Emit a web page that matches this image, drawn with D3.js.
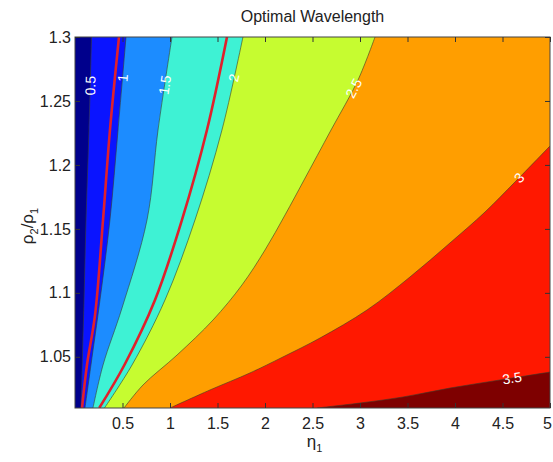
<!DOCTYPE html>
<html>
<head>
<meta charset="utf-8">
<script src="https://cdn.jsdelivr.net/npm/d3@7/dist/d3.min.js"></script>
<style>
  body { margin: 0; background: #fff; }
  text { font-family: "Liberation Sans", Arial, Helvetica, sans-serif; }
</style>
</head>
<body>
<script>
// values, [eta1, rho2/rho1]
const xTicks = [0.5, 1, 1.5, 2, 2.5, 3, 3.5, 4, 4.5, 5];
const yTicks = [1.05, 1.1, 1.15, 1.2, 1.25, 1.3];
const levels = [0.5, 1, 1.5, 2, 2.5, 3, 3.5];
const bandColors = ["#00008c", "#0a14ff", "#1c8cff", "#3ef2d4", "#c6fc30", "#ff9e00", "#ff1800", "#7e0000"];

const contour05 = [[0.174, 1.3], [0.147, 1.2273], [0.116, 1.157], [0.095, 1.0944], [0.063, 1.01]];
const contour10 = [[0.537, 1.3], [0.453, 1.2273], [0.368, 1.157], [0.263, 1.0944], [0.168, 1.0436], [0.105, 1.01]];
const contour15 = [[1.021, 1.3], [0.874, 1.2273], [0.758, 1.157], [0.495, 1.0882], [0.295, 1.0436], [0.189, 1.01]];
const contour20 = [[1.768, 1.3], [1.547, 1.2273], [1.263, 1.157], [0.947, 1.0944], [0.6, 1.0436], [0.31, 1.01]];
const contour25 = [[3.158, 1.3], [2.979, 1.2664], [2.695, 1.2273], [2.411, 1.1882], [2.211, 1.1609], [2.0, 1.1335],
                   [1.758, 1.1062], [1.453, 1.0788], [1.074, 1.0514], [0.716, 1.028], [0.516, 1.01]];
const contour30 = [[1.0, 1.01], [1.421, 1.0241], [1.842, 1.0374], [2.189, 1.0499], [2.579, 1.0647], [3.074, 1.0866],
                   [3.526, 1.1124], [3.947, 1.139], [4.316, 1.1632], [4.632, 1.1867], [5.0, 1.2148]];
const contour35 = [[2.547, 1.01], [3.0, 1.0139], [3.453, 1.0186], [3.947, 1.0256], [4.474, 1.0319], [5.0, 1.0381]];
const contours = [contour05, contour10, contour15, contour20, contour25, contour30, contour35];

// the two red curves
const redLine1 = [[0.463, 1.3], [0.368, 1.2273], [0.295, 1.157], [0.211, 1.0827], [0.126, 1.0436], [0.074, 1.01]];
const redLine2 = [[1.6, 1.3], [1.389, 1.2273], [1.126, 1.157], [0.842, 1.0944], [0.52, 1.0436], [0.255, 1.01]];

// where the level labels sit (rho for the steep ones, eta for the last)
const labelRho = [1.262, 1.268, 1.2625, 1.268, 1.26, 1.19, null];
const labelEta = [null, null, null, null, null, null, 4.6];

let SvgWidth = 553;
let SvgHeight = 462;
let Margin = { Top: 37, Right: 3, Bottom: 54, Left: 75 };
let ChartWidth = SvgWidth - Margin.Left - Margin.Right;
let ChartHeight = SvgHeight - Margin.Top - Margin.Bottom;

let Svg = d3.select("body").append("svg")
    .attr("width", SvgWidth)
    .attr("height", SvgHeight);

let ChartGroup = Svg.append("g")
    .attr("transform", `translate(${Margin.Left},${Margin.Top})`);

let x = d3.scaleLinear().domain([0, 5]).range([0, ChartWidth]);
let y = d3.scaleLinear().domain([1.01, 1.3]).range([ChartHeight, 0]);

Svg.append("defs").append("clipPath").attr("id", "plotclip")
    .append("rect").attr("width", ChartWidth).attr("height", ChartHeight);

let Plot = ChartGroup.append("g").attr("clip-path", "url(#plotclip)");

let line = d3.line().x(d => x(d[0])).y(d => y(d[1])).curve(d3.curveCatmullRom.alpha(0.5));

// lowest band as the background, each level paints everything to its right
Plot.append("rect")
    .attr("width", ChartWidth).attr("height", ChartHeight)
    .attr("fill", bandColors[0]);

contours.forEach(function (c, i) {
    let xmax = x.domain()[1], ymin = y.domain()[0];
    let d = line(c) + `L${x(xmax) + 2},${y(ymin) + 2}L${x(xmax) + 2},${y(c[0][1]) + (c[0][1] > 1.2 ? -2 : 2)}Z`;
    Plot.append("path")
        .attr("d", d)
        .attr("fill", bandColors[i + 1]);
});

contours.forEach(function (c) {
    Plot.append("path")
        .attr("d", line(c))
        .attr("fill", "none")
        .attr("stroke", "#3a3a2a")
        .attr("stroke-opacity", 0.75)
        .attr("stroke-width", 0.8);
});

[redLine1, redLine2].forEach(function (c) {
    Plot.append("path")
        .attr("d", line(c))
        .attr("fill", "none")
        .attr("stroke", "#e0202c")
        .attr("stroke-width", 2.6);
});

// contour labels, turned along the line
function labelSpot(c, rho, eta) {
    for (let i = 0; i < c.length - 1; i++) {
        let a = c[i], b = c[i + 1];
        let t = null;
        if (rho != null && (rho - a[1]) * (rho - b[1]) <= 0) t = (rho - a[1]) / (b[1] - a[1]);
        if (eta != null && (eta - a[0]) * (eta - b[0]) <= 0) t = (eta - a[0]) / (b[0] - a[0]);
        if (t != null) {
            let px = x(a[0] + t * (b[0] - a[0])), py = y(a[1] + t * (b[1] - a[1]));
            let ang = Math.atan2(y(b[1]) - y(a[1]), x(b[0]) - x(a[0])) * 180 / Math.PI;
            if (ang > 90) ang -= 180;
            if (ang < -90) ang += 180;
            return [px, py, ang];
        }
    }
    return null;
}

contours.forEach(function (c, i) {
    let s = labelSpot(c, labelRho[i], labelEta[i]);
    if (!s) return;
    Plot.append("text")
        .attr("transform", `translate(${s[0]},${s[1]}) rotate(${s[2]})`)
        .attr("text-anchor", "middle")
        .attr("dy", "0.36em")
        .attr("fill", "#fff")
        .style("font-size", "14px")
        .text(levels[i]);
});

// frame and inward ticks on all four sides
ChartGroup.append("rect")
    .attr("width", ChartWidth).attr("height", ChartHeight)
    .attr("fill", "none").attr("stroke", "#444").attr("stroke-width", 1);

let BottomAxis = d3.axisBottom(x).tickValues(xTicks).tickSizeInner(-5).tickSizeOuter(0).tickPadding(10).tickFormat(d => String(d));
let TopAxis = d3.axisTop(x).tickValues(xTicks).tickSizeInner(-5).tickSizeOuter(0).tickFormat("");
let LeftAxis = d3.axisLeft(y).tickValues(yTicks).tickSizeInner(-5).tickSizeOuter(0).tickPadding(4).tickFormat(d => String(d));
let RightAxis = d3.axisRight(y).tickValues(yTicks).tickSizeInner(-5).tickSizeOuter(0).tickFormat("");

let BottomG = ChartGroup.append("g").attr("transform", `translate(0,${ChartHeight})`).call(BottomAxis);
ChartGroup.append("g").call(TopAxis);
ChartGroup.append("g").call(LeftAxis);
ChartGroup.append("g").attr("transform", `translate(${ChartWidth},0)`).call(RightAxis);

ChartGroup.selectAll(".domain").remove();
ChartGroup.selectAll(".tick line").attr("stroke", "#333");
ChartGroup.selectAll(".tick text")
    .attr("fill", "#222")
    .style("font-size", "16px")
    .style("font-family", '"Liberation Sans", Arial, sans-serif');

// last label sits right on the window edge, nudge it in
BottomG.selectAll(".tick text").filter(d => d === 5).attr("dx", -3);

// title and axis names
Svg.append("text")
    .attr("x", Margin.Left + ChartWidth / 2)
    .attr("y", 22)
    .attr("text-anchor", "middle")
    .attr("fill", "#222")
    .style("font-size", "16px")
    .text("Optimal Wavelength");

let xName = Svg.append("text")
    .attr("x", Margin.Left + ChartWidth / 2 + 2)
    .attr("y", 447)
    .attr("text-anchor", "middle")
    .attr("fill", "#222")
    .style("font-size", "17px");
xName.append("tspan").text("η");
xName.append("tspan").attr("dy", 5).style("font-size", "11px").text("1");

let yName = Svg.append("text")
    .attr("transform", `translate(33,226) rotate(-90)`)
    .attr("text-anchor", "middle")
    .attr("fill", "#222")
    .style("font-size", "17px");
yName.append("tspan").text("ρ");
yName.append("tspan").attr("dy", 5).style("font-size", "11px").text("2");
yName.append("tspan").attr("dy", -5).text("/ρ");
yName.append("tspan").attr("dy", 5).style("font-size", "11px").text("1");
</script>
</body>
</html>
